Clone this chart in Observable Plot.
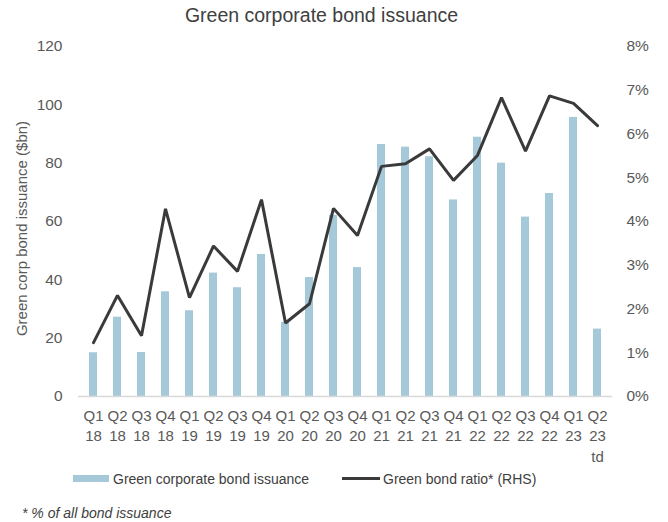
<!DOCTYPE html>
<html>
<head>
<meta charset="utf-8">
<script src="https://cdn.jsdelivr.net/npm/d3@7"></script>
<script src="https://cdn.jsdelivr.net/npm/@observablehq/plot@0.6"></script>
<style>
  body { margin: 0; background: #fff; font-family: "Liberation Sans", Arial, sans-serif; }
  #wrap { position: relative; width: 668px; height: 522px; }
  #title { position: absolute; left: 0; top: 0; width: 643px; text-align: center; font-size: 19.5px; line-height: 30px; color: #404040; }
  #chart { position: absolute; left: 0; top: 30px; }
  .leg { position: absolute; top: 469px; height: 20px; line-height: 20px; font-size: 14px; color: #404040; white-space: nowrap; }
  .sw { position: absolute; }
  #foot { position: absolute; left: 22px; top: 503px; font-size: 14px; font-style: italic; color: #404040; line-height: 20px; }
</style>
</head>
<body>
<div id="wrap">
  <div id="title">Green corporate bond issuance</div>
  <div id="chart"></div>
  <div class="sw" style="left:73px; top:475px; width:36px; height:7px; background:#a6c9d9;"></div>
  <div class="leg" style="left:113px;">Green corporate bond issuance</div>
  <div class="sw" style="left:342px; top:477px; width:38px; height:3px; background:#3a3a3a;"></div>
  <div class="leg" style="left:383px;">Green bond ratio* (RHS)</div>
  <div id="foot">* % of all bond issuance</div>
</div>
<script>
const quarters = ["Q1 18","Q2 18","Q3 18","Q4 18","Q1 19","Q2 19","Q3 19","Q4 19","Q1 20","Q2 20","Q3 20","Q4 20","Q1 21","Q2 21","Q3 21","Q4 21","Q1 22","Q2 22","Q3 22","Q4 22","Q1 23","Q2 23 td"];
const issuance = [15, 27.2, 15.1, 35.9, 29.4, 42.3, 37.3, 48.7, 25.4, 40.8, 62.1, 44.2, 86.4, 85.5, 82.2, 67.4, 88.9, 80.0, 61.5, 69.6, 95.7, 23.1];
const ratio = [1.23, 2.31, 1.39, 4.29, 2.26, 3.44, 2.86, 4.50, 1.68, 2.12, 4.30, 3.68, 5.26, 5.32, 5.66, 4.94, 5.51, 6.83, 5.61, 6.87, 6.70, 6.19];
const leftTicks = [0, 20, 40, 60, 80, 100, 120];
const rightTicks = [0, 1, 2, 3, 4, 5, 6, 7, 8];
const yLabel = "Green corp bond issuance ($bn)";

const k = 120 / 8; // right-axis % to left-axis units
const data = quarters.map((q, i) => ({q, v: issuance[i], r: ratio[i] * k}));

const chart = Plot.plot({
  width: 668,
  height: 440,
  marginTop: 16,
  marginBottom: 74,
  marginLeft: 78,
  marginRight: 56,
  style: {fontFamily: "Liberation Sans, Arial, sans-serif", fontSize: "14px", color: "#595959", background: "#fff"},
  x: {domain: quarters, paddingInner: 0.68, paddingOuter: 0.34, label: null},
  y: {domain: [0, 120], label: null},
  marks: [
    Plot.barY(data, {x: "q", y: "v", fill: "#a6c9d9"}),
    Plot.ruleY([0], {stroke: "#d9d9d9", strokeWidth: 1.5}),
    Plot.line(data, {x: "q", y: "r", stroke: "#3a3a3a", strokeWidth: 3, strokeLinejoin: "miter"}),
    Plot.axisX({tickSize: 0, tickPadding: 10, tickFormat: d => d.replace(/ /g, "\n"), lineHeight: 1.36, fontSize: 15, fill: "#595959", label: null}),
    Plot.axisY({ticks: leftTicks, anchor: "left", tickSize: 0, tickPadding: 16, fontSize: 15.5, fill: "#595959", label: null}),
    Plot.text([yLabel], {frameAnchor: "left", textAnchor: "middle", rotate: -90, dx: -56, dy: 7, fontSize: 15, fill: "#595959"}),
    Plot.axisY(rightTicks.map(t => t * k), {anchor: "right", tickSize: 0, tickPadding: 14, fontSize: 15.5, fill: "#595959",
      tickFormat: d => (d / k) + "%", label: null})
  ]
});
document.getElementById("chart").appendChild(chart);
</script>
</body>
</html>
